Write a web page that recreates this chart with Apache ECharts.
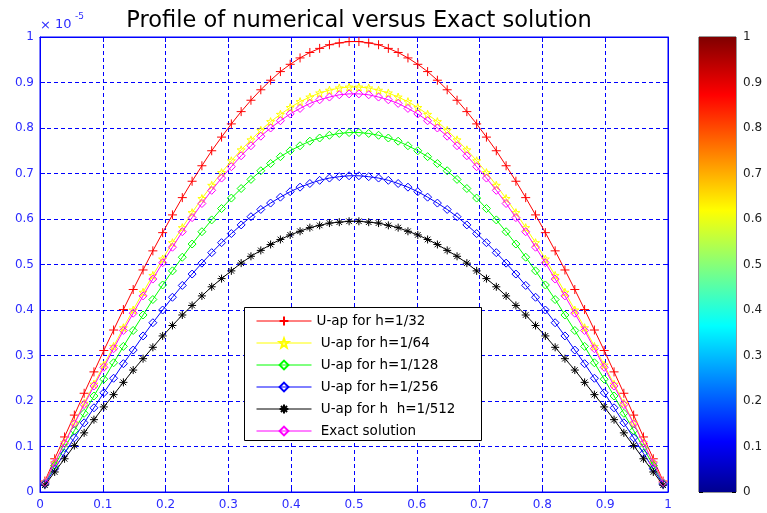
<!DOCTYPE html>
<html>
<head>
<meta charset="utf-8">
<script src="https://cdn.jsdelivr.net/npm/echarts@6/dist/echarts.min.js"></script>
<style>
html,body{margin:0;padding:0;background:#fff;}
#main{width:767px;height:513px;}
</style>
</head>
<body>
<div id="main"></div>
<script>
// x positions of the nodes
const xs = [0.0078,0.0234,0.0391,0.0547,0.0703,0.0859,0.1016,0.1172,0.1328,0.1484,0.1641,0.1797,0.1953,0.2109,0.2266,0.2422,
0.2578,0.2734,0.2891,0.3047,0.3203,0.3359,0.3516,0.3672,0.3828,0.3984,0.4141,0.4297,0.4453,0.4609,0.4766,0.4922,
0.5078,0.5234,0.5391,0.5547,0.5703,0.5859,0.6016,0.6172,0.6328,0.6484,0.6641,0.6797,0.6953,0.7109,0.7266,0.7422,
0.7578,0.7734,0.7891,0.8047,0.8203,0.8359,0.8516,0.8672,0.8828,0.8984,0.9141,0.9297,0.9453,0.9609,0.9766,0.9922];

const h32 = [0.024,0.073,0.121,0.169,0.217,0.264,0.311,0.356,0.401,0.445,0.488,0.530,0.570,0.609,0.647,0.683,
0.717,0.750,0.780,0.809,0.836,0.861,0.884,0.905,0.924,0.940,0.954,0.966,0.975,0.983,0.987,0.990,
0.990,0.987,0.983,0.975,0.966,0.954,0.940,0.924,0.905,0.884,0.861,0.836,0.809,0.780,0.750,0.717,
0.683,0.647,0.609,0.570,0.530,0.488,0.445,0.401,0.356,0.311,0.264,0.217,0.169,0.121,0.073,0.024];

const h64 = [0.022,0.065,0.109,0.152,0.195,0.237,0.279,0.320,0.361,0.400,0.439,0.476,0.512,0.548,0.581,0.614,
0.645,0.674,0.702,0.728,0.752,0.774,0.795,0.814,0.830,0.845,0.858,0.868,0.877,0.883,0.888,0.890,
0.890,0.888,0.883,0.877,0.868,0.858,0.845,0.830,0.814,0.795,0.774,0.752,0.728,0.702,0.674,0.645,
0.614,0.581,0.548,0.512,0.476,0.439,0.400,0.361,0.320,0.279,0.237,0.195,0.152,0.109,0.065,0.022];

const h128 = [0.019,0.058,0.097,0.135,0.173,0.211,0.248,0.284,0.320,0.355,0.389,0.423,0.455,0.486,0.516,0.545,
0.572,0.598,0.623,0.646,0.667,0.687,0.706,0.722,0.737,0.750,0.761,0.771,0.778,0.784,0.788,0.790,
0.790,0.788,0.784,0.778,0.771,0.761,0.750,0.737,0.722,0.706,0.687,0.667,0.646,0.623,0.598,0.572,
0.545,0.516,0.486,0.455,0.423,0.389,0.355,0.320,0.284,0.248,0.211,0.173,0.135,0.097,0.058,0.019];

const h256 = [0.017,0.051,0.085,0.119,0.152,0.185,0.218,0.250,0.282,0.312,0.343,0.372,0.400,0.428,0.454,0.479,
0.503,0.526,0.548,0.568,0.587,0.605,0.621,0.635,0.648,0.660,0.670,0.678,0.685,0.690,0.693,0.695,
0.695,0.693,0.690,0.685,0.678,0.670,0.660,0.648,0.635,0.621,0.605,0.587,0.568,0.548,0.526,0.503,
0.479,0.454,0.428,0.400,0.372,0.343,0.312,0.282,0.250,0.218,0.185,0.152,0.119,0.085,0.051,0.017];

const h512 = [0.015,0.044,0.073,0.102,0.130,0.159,0.187,0.214,0.241,0.268,0.293,0.318,0.343,0.366,0.389,0.410,
0.431,0.451,0.469,0.486,0.503,0.518,0.531,0.544,0.555,0.565,0.573,0.581,0.586,0.591,0.593,0.595,
0.595,0.593,0.591,0.586,0.581,0.573,0.565,0.555,0.544,0.531,0.518,0.503,0.486,0.469,0.451,0.431,
0.410,0.389,0.366,0.343,0.318,0.293,0.268,0.241,0.214,0.187,0.159,0.130,0.102,0.073,0.044,0.015];

const exact = [0.021,0.064,0.107,0.150,0.192,0.233,0.274,0.315,0.355,0.393,0.431,0.468,0.504,0.538,0.572,0.603,
0.634,0.663,0.690,0.715,0.739,0.761,0.782,0.800,0.816,0.831,0.843,0.854,0.862,0.868,0.873,0.875,
0.875,0.873,0.868,0.862,0.854,0.843,0.831,0.816,0.800,0.782,0.761,0.739,0.715,0.690,0.663,0.634,
0.603,0.572,0.538,0.504,0.468,0.431,0.393,0.355,0.315,0.274,0.233,0.192,0.150,0.107,0.064,0.021];

const seriesNames = ['U-ap for h=1/32',' U-ap for h=1/64',' U-ap for h=1/128',' U-ap for h=1/256',' U-ap for h  h=1/512',' Exact solution'];
const xTicks = [0,0.1,0.2,0.3,0.4,0.5,0.6,0.7,0.8,0.9,1];
const cbarTicks = [0,0.1,0.2,0.3,0.4,0.5,0.6,0.7,0.8,0.9,1];

const PLUS = 'path://M0,5L10,5M5,0L5,10';
const STAR = 'path://M5,0L6.18,3.38L9.76,3.45L6.9,5.62L7.94,9.05L5,7L2.06,9.05L3.1,5.62L0.24,3.45L3.82,3.38Z';
const DIAM = 'path://M5,0L10,5L5,10L0,5Z';
const AST = 'path://M5,0L5,10M0,5L10,5M1.5,1.5L8.5,8.5M1.5,8.5L8.5,1.5';

const seriesDefs = [
  {vals:h32, color:'#ff0000', sym:PLUS, size:9},
  {vals:h64, color:'#ffff00', sym:STAR, size:8},
  {vals:h128, color:'#00ff00', sym:DIAM, size:8},
  {vals:h256, color:'#0000ff', sym:DIAM, size:8},
  {vals:h512, color:'#000000', sym:AST, size:8},
  {vals:exact, color:'#ff00ff', sym:DIAM, size:8}
];

const chart = echarts.init(document.getElementById('main'), null, {renderer:'canvas'});
const BLUE = '#0000ff';
const LBL = '#2b2bff';
const FONT = 'DejaVu Sans, Liberation Sans, sans-serif';

const series = seriesDefs.map((d, k) => ({
  name: seriesNames[k],
  type: 'line',
  xAxisIndex: 0, yAxisIndex: 0,
  data: xs.map((x, i) => [x, d.vals[i]]),
  symbol: d.sym,
  symbolSize: d.size,
  showAllSymbol: true,
  color: d.color,
  lineStyle: {color: d.color, width: 1},
  itemStyle: {color: 'transparent', borderColor: d.color, borderWidth: 1},
  emphasis: {disabled: true},
  z: 2 + k
}));

series.push({
  name: 'colorbar',
  type: 'bar',
  xAxisIndex: 2, yAxisIndex: 2,
  data: [1],
  barWidth: '100%',
  silent: true,
  itemStyle: {
    color: {
      type: 'linear', x: 0, y: 1, x2: 0, y2: 0,
      colorStops: [
        {offset: 0, color: '#00008f'},
        {offset: 0.111, color: '#0000ff'},
        {offset: 0.365, color: '#00ffff'},
        {offset: 0.619, color: '#ffff00'},
        {offset: 0.873, color: '#ff0000'},
        {offset: 1, color: '#800000'}
      ]
    }
  }
});

const option = {
  animation: false,
  backgroundColor: '#ffffff',
  title: {
    text: 'Profile of numerical versus Exact solution',
    left: 354, top: 5, textAlign: 'center',
    textStyle: {fontFamily: FONT, fontSize: 22.5, fontWeight: 'normal', color: '#000'}
  },
  grid: [
    {left: 40, top: 37, width: 628, height: 455, show: true, borderColor: BLUE, borderWidth: 1, backgroundColor: '#fff'},
    {left: 699, top: 37, width: 37, height: 455, show: true, borderColor: '#333', borderWidth: 1}
  ],
  xAxis: [
    {type: 'value', gridIndex: 0, min: 0, max: 1, interval: 0.1, position: 'bottom',
     axisLine: {show: true, onZero: false, lineStyle: {color: BLUE, width: 1}},
     axisTick: {show: true, inside: true, length: 5, lineStyle: {color: BLUE}},
     axisLabel: {color: LBL, fontFamily: FONT, fontSize: 12, margin: 7,
       formatter: v => { const t = xTicks.find(a => Math.abs(a - v) < 1e-9); return t === undefined ? '' : String(t); }},
     splitLine: {show: true, lineStyle: {color: BLUE, type: [4, 3], width: 1}}},
    {type: 'value', gridIndex: 0, min: 0, max: 1, interval: 0.1, position: 'top',
     axisLine: {show: true, onZero: false, lineStyle: {color: BLUE}},
     axisTick: {show: true, inside: true, length: 5, lineStyle: {color: BLUE}},
     axisLabel: {show: false}, splitLine: {show: false}},
    {type: 'category', gridIndex: 1, data: ['c'], show: false}
  ],
  yAxis: [
    {type: 'value', gridIndex: 0, min: 0, max: 1, interval: 0.1, position: 'left',
     axisLine: {show: true, onZero: false, lineStyle: {color: BLUE, width: 1}},
     axisTick: {show: true, inside: true, length: 5, lineStyle: {color: BLUE}},
     axisLabel: {color: LBL, fontFamily: FONT, fontSize: 12, margin: 6},
     splitLine: {show: true, lineStyle: {color: BLUE, type: [4, 3], width: 1}}},
    {type: 'value', gridIndex: 0, min: 0, max: 1, interval: 0.1, position: 'right',
     axisLine: {show: true, onZero: false, lineStyle: {color: BLUE}},
     axisTick: {show: true, inside: true, length: 5, lineStyle: {color: BLUE}},
     axisLabel: {show: false}, splitLine: {show: false}},
    {type: 'value', gridIndex: 1, min: 0, max: 1, interval: 0.1, position: 'right',
     axisLine: {show: false},
     axisTick: {show: true, inside: true, length: 4, lineStyle: {color: '#000'}},
     axisLabel: {color: '#222', fontFamily: FONT, fontSize: 12, margin: 7,
       formatter: v => { const t = cbarTicks.find(a => Math.abs(a - v) < 1e-9); return t === undefined ? '' : String(t); }},
     splitLine: {show: false}},
    {type: 'value', gridIndex: 1, min: 0, max: 1, interval: 0.1, position: 'left',
     axisLine: {show: false},
     axisTick: {show: true, inside: true, length: 4, lineStyle: {color: '#000'}},
     axisLabel: {show: false}, splitLine: {show: false}}
  ],
  legend: {
    data: seriesNames,
    orient: 'vertical',
    left: 256, top: 314,
    padding: 0,
    itemWidth: 55, itemHeight: 11, itemGap: 8,
    selectedMode: false,
    lineStyle: {width: 1},
    textStyle: {fontFamily: FONT, fontSize: 13.5, color: '#000'},
    z: 10
  },
  graphic: [
    {type: 'rect', left: 244, top: 307, z: 9,
     shape: {width: 237, height: 133},
     style: {fill: '#ffffff', stroke: '#000000', lineWidth: 1}},
    {type: 'text', left: 40, top: 19, z: 10,
     style: {text: '×', fill: LBL, font: '13px DejaVu Sans, Liberation Sans, sans-serif'}},
    {type: 'text', left: 55, top: 18, z: 10,
     style: {text: '10', fill: LBL, font: '13px DejaVu Sans, Liberation Sans, sans-serif'}},
    {type: 'text', left: 75, top: 12, z: 10,
     style: {text: '-5', fill: LBL, font: '9px DejaVu Sans, Liberation Sans, sans-serif'}}
  ],
  series: series
};
chart.setOption(option);
</script>
</body>
</html>
